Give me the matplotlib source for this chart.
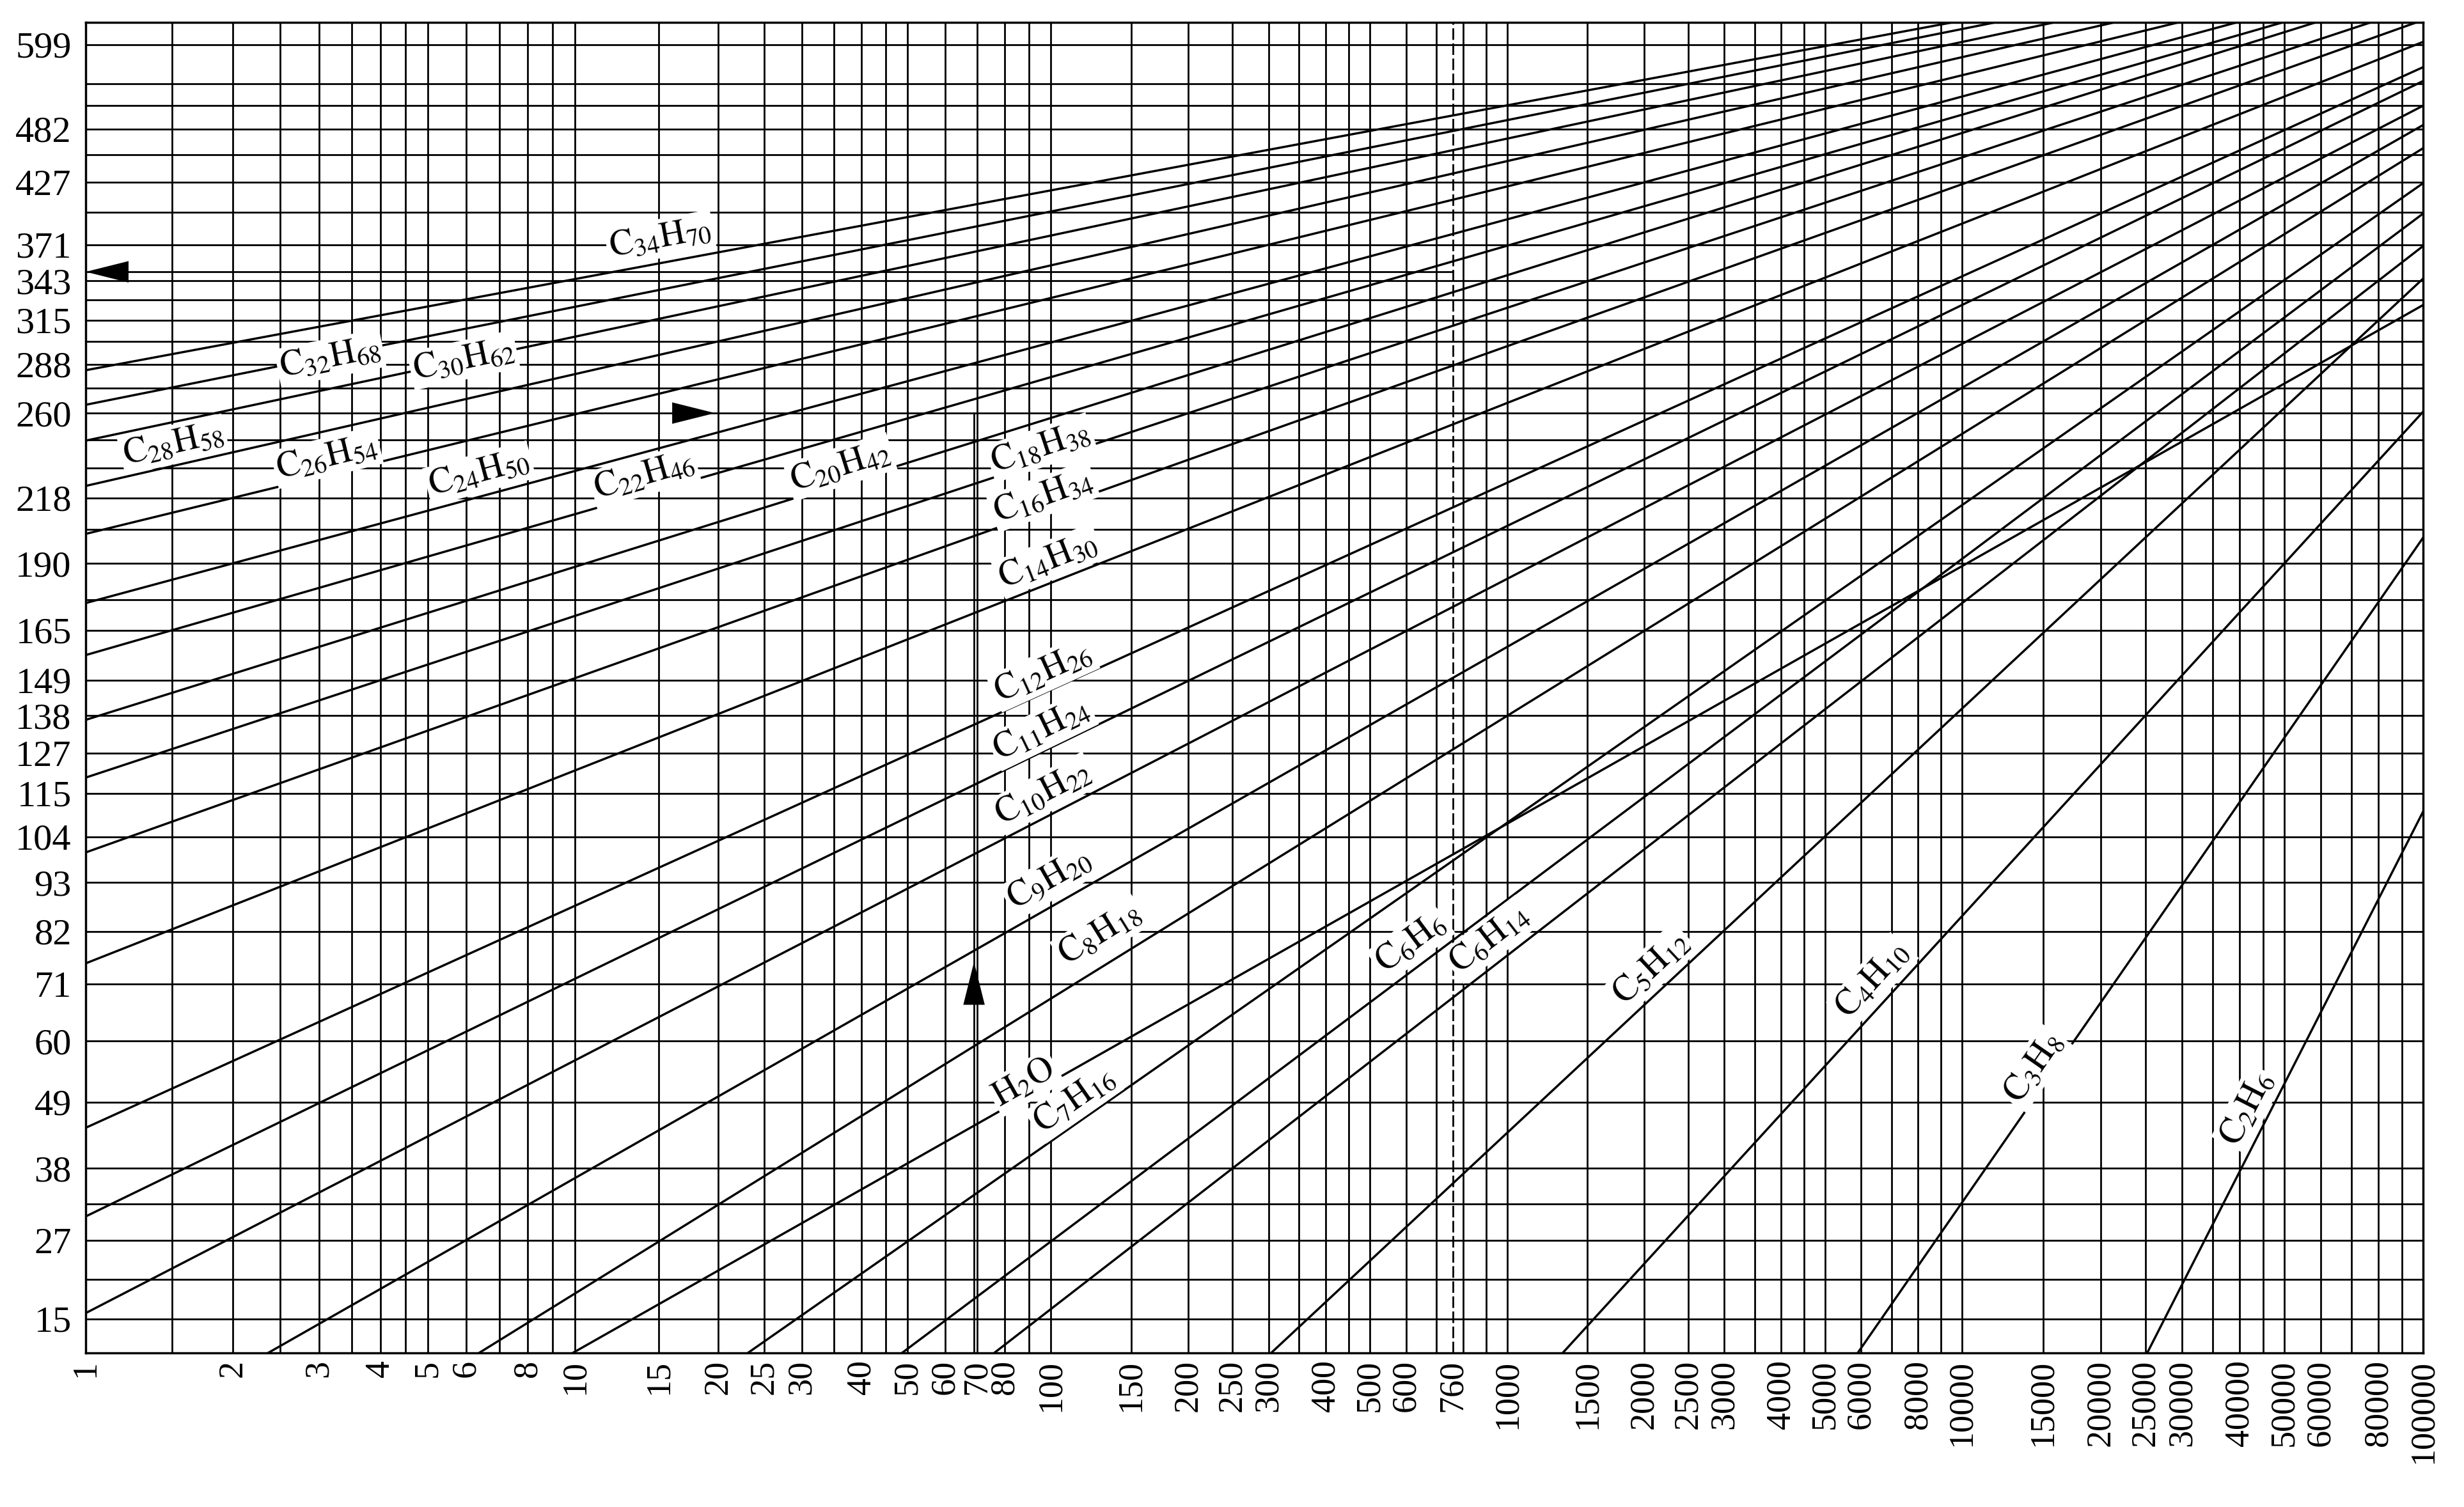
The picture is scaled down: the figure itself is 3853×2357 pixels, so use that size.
import numpy as np
import matplotlib
matplotlib.use("Agg")
import matplotlib.pyplot as plt

plt.rcParams['font.family'] = ['Liberation Serif', 'DejaVu Serif']
plt.rcParams['mathtext.fontset'] = 'stix'

# ---------------- data ----------------
compounds = ['C34H70', 'C32H68', 'C30H62', 'C28H58', 'C26H54', 'C24H50', 'C22H46',
             'C20H42', 'C18H38', 'C16H34', 'C14H30', 'C12H26', 'C11H24', 'C10H22',
             'C9H20', 'C8H18', 'H2O', 'C7H16', 'C6H6', 'C6H14', 'C5H12', 'C4H10',
             'C3H8', 'C2H6']
label_tex = [r'$\mathrm{C_{34}H_{70}}$', r'$\mathrm{C_{32}H_{68}}$', r'$\mathrm{C_{30}H_{62}}$',
             r'$\mathrm{C_{28}H_{58}}$', r'$\mathrm{C_{26}H_{54}}$', r'$\mathrm{C_{24}H_{50}}$',
             r'$\mathrm{C_{22}H_{46}}$', r'$\mathrm{C_{20}H_{42}}$', r'$\mathrm{C_{18}H_{38}}$',
             r'$\mathrm{C_{16}H_{34}}$', r'$\mathrm{C_{14}H_{30}}$', r'$\mathrm{C_{12}H_{26}}$',
             r'$\mathrm{C_{11}H_{24}}$', r'$\mathrm{C_{10}H_{22}}$', r'$\mathrm{C_{9}H_{20}}$',
             r'$\mathrm{C_{8}H_{18}}$', r'$\mathrm{H_{2}O}$', r'$\mathrm{C_{7}H_{16}}$',
             r'$\mathrm{C_{6}H_{6}}$', r'$\mathrm{C_{6}H_{14}}$', r'$\mathrm{C_{5}H_{12}}$',
             r'$\mathrm{C_{4}H_{10}}$', r'$\mathrm{C_{3}H_{8}}$', r'$\mathrm{C_{2}H_{6}}$']

# two points on every vapour-pressure line: (pressure mmHg, temperature degC)
p_low = [1, 1, 1, 1, 1, 1, 1, 1, 1, 1, 1, 1, 1, 1,
         2.36, 6.37, 9.9, 23.1, 48.7, 76.1, 304, 1324, 5898, 25220]
t_low = [284.2, 264.5, 245.6, 223.7, 202.6, 175.4, 157.1, 136.5, 119.9, 100.5, 75.4, 44.5, 30.3, 16.4,
         11.1, 11.1, 11.1, 11.1, 11.1, 11.1, 11.1, 11.1, 11.1, 11.1]
p_high = [760, 760, 760, 760, 760, 760, 760, 760, 760, 760, 760, 760, 760, 760,
          760, 760, 760, 760, 760, 760, 6823, 62300, 100000, 100000]
t_high = [498, 480, 459, 435, 410, 380, 358, 335, 312, 287, 254, 214, 195, 174,
          149.6, 127.8, 100.0, 98.5, 80.3, 68.4, 119.5, 210.5, 201, 110.8]

# axis ticks / grid
x_tick_values = [1, 2, 3, 4, 5, 6, 8, 10, 15, 20, 25, 30, 40, 50, 60, 70, 80, 100, 150, 200, 250,
                 300, 400, 500, 600, 760, 1000, 1500, 2000, 2500, 3000, 4000, 5000, 6000, 8000,
                 10000, 15000, 20000, 25000, 30000, 40000, 50000, 60000, 80000, 100000]
x_grid_mantissas = [1, 1.5, 2, 2.5, 3, 3.5, 4, 4.5, 5, 6, 7, 8, 9]
y_tick_values = [15.6, 26.7, 37.8, 48.9, 60.0, 71.1, 82.2, 93.3, 104.4, 115.6, 126.7, 137.8,
                 148.9, 165.6, 190.6, 218.3, 260.0, 287.8, 315.6, 343.3, 371.1, 426.7, 482.2, 593.3]
y_tick_labels = ['15', '27', '38', '49', '60', '71', '82', '93', '104', '115', '127', '138',
                 '149', '165', '190', '218', '260', '288', '315', '343', '371', '427', '482', '599']
y_grid = [15.6, 21.1, 26.7, 32.2, 37.8, 48.9, 60.0, 71.1, 82.2, 93.3, 104.4, 115.6, 126.7,
          137.8, 148.9, 165.6, 176.7, 190.6, 204.4, 218.3, 232.2, 246.1, 260.0, 273.9, 287.8,
          301.7, 315.6, 329.4, 343.3, 371.1, 398.9, 426.7, 454.4, 482.2, 510.0, 537.8, 593.3]

# worked-example annotation (pressure mmHg, temperature degC)
example_p = 69
example_t_start = 260.0
example_t_bp = 350.0

# ---------------- layout (label anchors) ----------------
label_p = [15.1, 3.16, 5.92, 1.51, 3.11, 6.37, 13.97, 36.1, 95.2, 96.4, 98.8, 96.4, 95.8, 96.4,
           99.4, 128.2, 88.0, 112.5, 614.5, 913.7, 2073, 6353, 14300, 41550]
label_t = [376.2, 291.5, 290.3, 243.7, 237.3, 229.6, 228.4, 232.7, 242.1, 219.0, 191.6, 151.3,
           133.4, 115.6, 93.9, 81.7, 52.3, 49.2, 79.8, 80.5, 74.4, 71.9, 55.0, 47.8]

# ---------------- chart scales ----------------
# pressure: logarithmic, decade widths as printed on the chart
DEC_U = np.array([0.0, 1.0, 2.0, 3.0, 4.0, 5.0])
DEC_S = np.array([0.0, 765.0, 1509.0, 2223.0, 2934.0, 3655.0]) / 3655.0


def _pw(v, xs, ys):
    v = np.asarray(v, dtype=float)
    out = np.interp(v, xs, ys)
    lo_slope = (ys[1] - ys[0]) / (xs[1] - xs[0])
    hi_slope = (ys[-1] - ys[-2]) / (xs[-1] - xs[-2])
    out = np.where(v < xs[0], ys[0] + (v - xs[0]) * lo_slope, out)
    out = np.where(v > xs[-1], ys[-1] + (v - xs[-1]) * hi_slope, out)
    return out


def x_fwd(p):
    p = np.asarray(p, dtype=float)
    return _pw(np.log10(np.clip(p, 1e-12, None)), DEC_U, DEC_S)


def x_inv(s):
    return 10.0 ** _pw(s, DEC_S, DEC_U)


# temperature: Cox-chart scale  -1/(T + C)
C_COX = 230.0


def y_fwd(t):
    t = np.asarray(t, dtype=float)
    return -1.0 / np.maximum(t + C_COX, 1e-6)


def y_inv(g):
    g = np.asarray(g, dtype=float)
    return -1.0 / np.minimum(g, -1e-9) - C_COX


# ---------------- figure ----------------
W, H = 3853, 2357
fig = plt.figure(figsize=(W / 100, H / 100), dpi=100, facecolor='white')
ax = fig.add_axes([134 / W, 1 - 2116 / H, (3789 - 134) / W, (2116 - 35) / H])
ax.set_xscale('function', functions=(x_fwd, x_inv))
ax.set_yscale('function', functions=(y_fwd, y_inv))
ax.set_xlim(1, 100000)
ax.set_ylim(11.1, 628.4)

grid_lw = 2.0
line_lw = 2.5

x_grid = [m * 10 ** k for k in range(5) for m in x_grid_mantissas] + [100000]
for xv in x_grid:
    ax.axvline(xv, color='black', lw=grid_lw, zorder=1)
for yv in y_grid:
    ax.axhline(yv, color='black', lw=grid_lw, zorder=1)

# dashed normal-boiling-point line
ax.axvline(760, color='black', lw=grid_lw, ls=(0, (6.5, 2.0)), zorder=1)

# vapour-pressure lines
for i in range(len(compounds)):
    ax.axline((p_low[i], t_low[i]), (p_high[i], t_high[i]), color='black', lw=line_lw, zorder=2)

# labels along the lines
for i in range(len(compounds)):
    a, b = ax.transData.transform([(p_low[i], t_low[i]), (p_high[i], t_high[i])])
    ang = np.degrees(np.arctan2(b[1] - a[1], b[0] - a[0]))
    ax.text(label_p[i], label_t[i], label_tex[i], rotation=ang, rotation_mode='anchor',
            ha='center', va='center', fontsize=40, zorder=5,
            bbox=dict(boxstyle='square,pad=0.08', fc='white', ec='none'))

# worked example
ax.plot([1, 760], [example_t_bp, example_t_bp], color='black', lw=grid_lw, zorder=2)
ax.plot([example_p, example_p], [11.1, example_t_start], color='black', lw=grid_lw, zorder=2)
arrow_kw = dict(arrowstyle='-|>,head_length=1.6,head_width=0.4', color='black', lw=0.1,
                shrinkA=0, shrinkB=0, mutation_scale=30)
ax.annotate('', xy=(1.0, example_t_bp), xytext=(1.4, example_t_bp), arrowprops=arrow_kw, zorder=6)
ax.annotate('', xy=(19.7, example_t_start), xytext=(14.0, example_t_start), arrowprops=arrow_kw, zorder=6)
ax.annotate('', xy=(example_p, 75.7), xytext=(example_p, 66.0), arrowprops=arrow_kw, zorder=6)

# ticks
ax.set_xticks(x_tick_values)
ax.set_xticklabels([str(v) for v in x_tick_values], rotation=90, fontsize=39)
ax.set_yticks(y_tick_values)
ax.set_yticklabels(y_tick_labels, fontsize=42)
ax.xaxis.set_minor_locator(matplotlib.ticker.NullLocator())
ax.yaxis.set_minor_locator(matplotlib.ticker.NullLocator())
ax.tick_params(axis='both', which='both', length=0)
ax.tick_params(axis='x', pad=8)
ax.tick_params(axis='y', pad=16)

for sp in ax.spines.values():
    sp.set_linewidth(2.5)
    sp.set_color('black')

fig.savefig('out.png', dpi=100, facecolor='white')
